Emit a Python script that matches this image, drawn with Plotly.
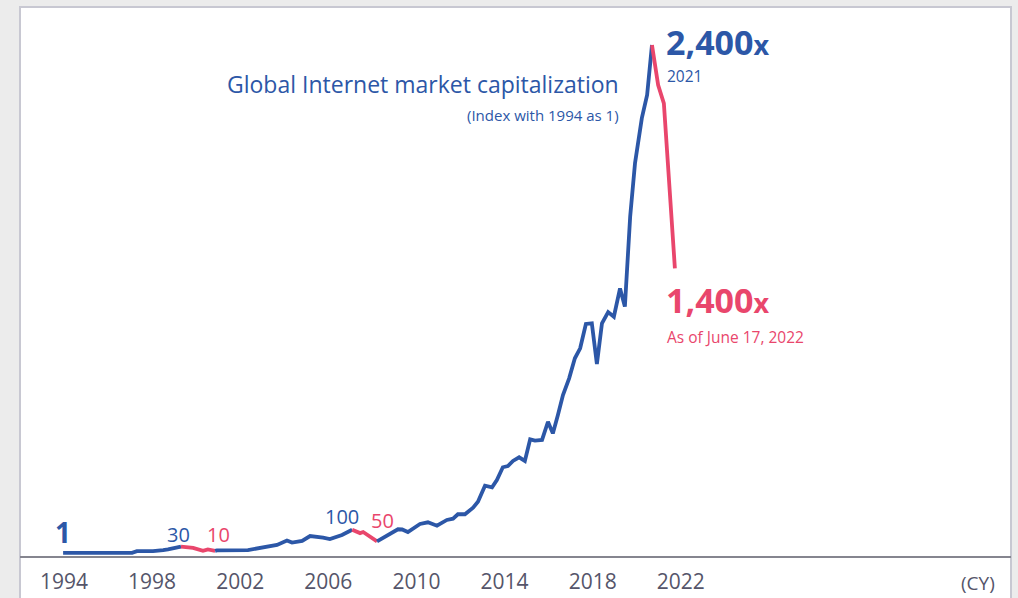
import plotly.graph_objects as go

# ---- data (index, 1994 = 1) ----
years = [1993.96, 1997.09, 1997.31, 1998.04, 1998.50, 1998.72, 1999.31,
         1999.86, 2000.31, 2000.53, 2000.86,
         2000.94, 2002.35, 2003.04, 2003.67, 2004.12, 2004.35, 2004.81, 2005.17,
         2005.76, 2006.07, 2006.62, 2007.08,
         2007.44, 2007.58, 2008.21,
         2008.66, 2009.16, 2009.35, 2009.61, 2010.16, 2010.52, 2010.93, 2011.38,
         2011.66, 2011.88, 2012.20, 2012.57, 2012.79, 2013.11, 2013.43, 2013.65,
         2013.92, 2014.15, 2014.38, 2014.66, 2014.92, 2015.16, 2015.38, 2015.70,
         2015.97, 2016.19, 2016.42, 2016.65, 2016.93, 2017.19, 2017.43, 2017.69,
         2017.96, 2018.19, 2018.42, 2018.70, 2018.96, 2019.24, 2019.46, 2019.70,
         2019.92, 2020.23, 2020.47, 2020.69,
         2020.97, 2021.23, 2021.51, 2021.73]
values = [1, 1, 9, 9, 14, 17, 30,
          24, 10, 17, 10,
          12, 14, 28, 38, 59, 49, 57, 80,
          73, 66, 85, 110,
          94, 99, 55,
          82, 112, 111, 99, 137, 145, 129, 156,
          162, 183, 183, 214, 242, 318, 310, 345,
          405, 411, 435, 452, 435, 537, 531, 534,
          620, 565, 652, 746, 825, 920, 967, 1082,
          1085, 893, 1085, 1138, 1116, 1250, 1164, 1589,
          1841, 2054, 2164, 2400,
          2211, 2124, 1683, 1345]
# downturn periods (drawn in red): (start, end) years
downturns = [(1999.31, 2000.86), (2007.08, 2008.21), (2020.69, 2021.73)]

tick_years = [1994, 1998, 2002, 2006, 2010, 2014, 2018, 2022]
tick_labels = ["1994", "1998", "2002", "2006", "2010", "2014", "2018", "2022"]

BLUE = "#2c57a7"
RED = "#e9466c"
FONT = "Open Sans"

# ---- split series into colored segments ----
segments = []
bounds = sorted({years[0], years[-1]} | {b for d in downturns for b in d})
for a, b in zip(bounds[:-1], bounds[1:]):
    xs = [x for x in years if a <= x <= b]
    ys = [v for x, v in zip(years, values) if a <= x <= b]
    red = any(abs(a - d[0]) < 1e-9 for d in downturns)
    segments.append((xs, ys, RED if red else BLUE))

fig = go.Figure()
for xs, ys, c in segments:
    fig.add_trace(go.Scatter(x=xs, y=ys, mode="lines",
                             line=dict(color=c, width=3.8),
                             hoverinfo="skip", showlegend=False))

W, H = 1018, 598
L, R, T, B = 20, 7, 7, 42


def px(x):
    return (x - L) / (W - L - R)


def py(y):
    return (H - B - y) / (H - T - B)


ann = []


def text(x, y, s, size, color, xanchor="left", bold=False):
    ann.append(dict(x=px(x), y=py(y), xref="paper", yref="paper", text=s,
                    showarrow=False, xanchor=xanchor, yanchor="middle",
                    font=dict(family=FONT, size=size, color=color,
                              weight="bold" if bold else "normal")))


text(621, 84, "Global Internet market capitalization", 23, BLUE, "right")
text(621, 115, "(Index with 1994 as 1)", 15, BLUE, "right")
text(664, 42, "2,400<span style='font-size:27px'>x</span>", 34, BLUE, bold=True)
text(665, 76, "2021", 15.5, BLUE)
text(664, 300, "1,400<span style='font-size:27px'>x</span>", 34, RED, bold=True)
text(665, 337, "As of June 17, 2022", 15.5, RED)
text(63, 532, "1", 28, BLUE, "center", bold=True)
text(178, 534, "30", 20, BLUE, "center")
text(218, 534, "10", 20, RED, "center")
text(342, 516, "100", 20, BLUE, "center")
text(382, 520, "50", 20, RED, "center")
text(978, 583, "(CY)", 19, "#55556a", "center")

fig.update_layout(
    width=W, height=H,
    margin=dict(l=L, r=R, t=T, b=B, pad=0, autoexpand=False),
    paper_bgcolor="#ececec",
    plot_bgcolor="rgba(0,0,0,0)",
    annotations=ann,
    shapes=[dict(type="rect", xref="paper", yref="paper",
                 x0=px(20), x1=px(1011), y0=py(610), y1=py(7),
                 fillcolor="white", line=dict(color="#c8c8d2", width=2),
                 layer="below")],
    xaxis=dict(range=[1992.003, 2036.987], tickvals=tick_years,
               ticktext=tick_labels, showgrid=False, zeroline=False,
               automargin=False,
               showline=True, linecolor="#85858f", linewidth=1.5,
               ticks="outside", ticklen=6, tickcolor="rgba(0,0,0,0)",
               tickfont=dict(family=FONT, size=21, color="#55556a")),
    yaxis=dict(range=[-14.2, 2579.3], visible=False, fixedrange=True,
               automargin=False),
)

fig.write_html("out.html")
